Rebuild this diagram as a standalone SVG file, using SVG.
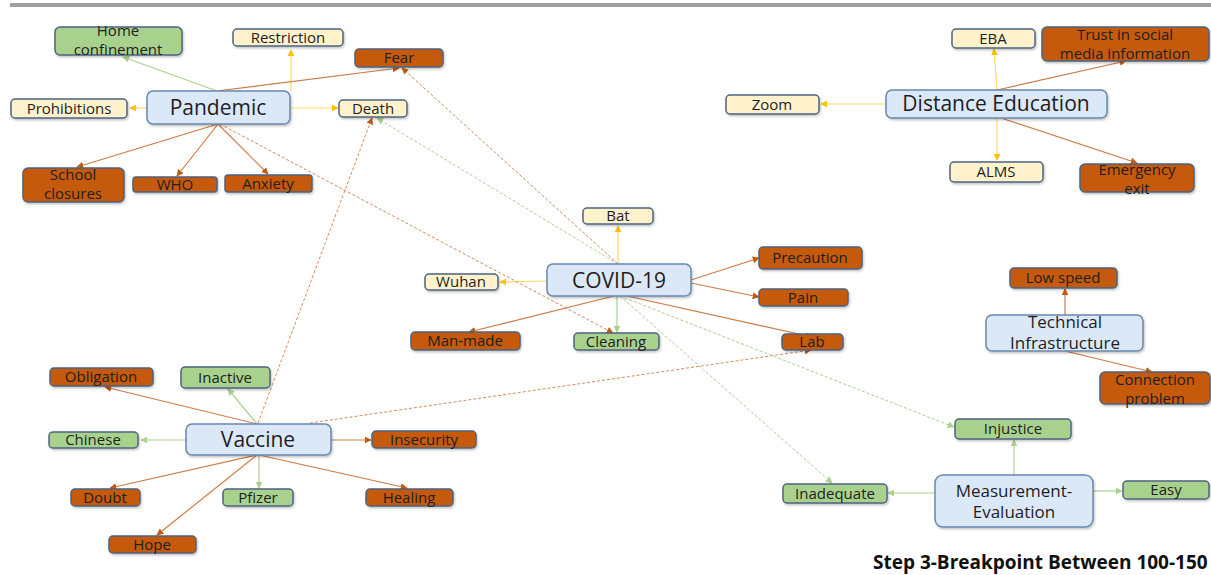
<svg xmlns="http://www.w3.org/2000/svg" width="1211" height="575" viewBox="0 0 1211 575">
<style>
.t{font-family:"Open Sans","Liberation Sans",sans-serif;font-size:15px;fill:#1e1e1e;text-anchor:middle}
.b{font-size:21px}
.m{font-size:17px}
.y{fill:#fff2cc;stroke:#4d6480;stroke-width:1.5}
.g{fill:#a9d18e;stroke:#4d6480;stroke-width:1.5}
.o{fill:#c55a11;stroke:#4d6480;stroke-width:1.5}
.c{fill:#dae8f7;stroke:#6a88ad;stroke-width:1.5}
.ly{stroke:#ffd966;stroke-width:1.2;fill:none;marker-end:url(#my)}
.lg{stroke:#a9d18e;stroke-width:1.2;fill:none;marker-end:url(#mg)}
.lo{stroke:#cf7a45;stroke-width:1.2;fill:none;marker-end:url(#mo)}
.dg{stroke:#a9d18e;stroke-width:1;fill:none;stroke-dasharray:3 2;marker-end:url(#mg)}
.do{stroke:#d98a5a;stroke-width:1;fill:none;stroke-dasharray:3 2;marker-end:url(#mo)}
</style>
<defs>
<marker id="my" viewBox="0 0 10 10" refX="9" refY="5" markerWidth="7" markerHeight="7" orient="auto" markerUnits="userSpaceOnUse"><path d="M0,0L10,5L0,10z" fill="#ffc000"/></marker>
<marker id="mg" viewBox="0 0 10 10" refX="9" refY="5" markerWidth="7" markerHeight="7" orient="auto" markerUnits="userSpaceOnUse"><path d="M0,0L10,5L0,10z" fill="#a9d18e"/></marker>
<marker id="mo" viewBox="0 0 10 10" refX="9" refY="5" markerWidth="7" markerHeight="7" orient="auto" markerUnits="userSpaceOnUse"><path d="M0,0L10,5L0,10z" fill="#c55a11"/></marker>
<filter id="sh" x="-10%" y="-20%" width="120%" height="150%"><feDropShadow dx="1" dy="1.5" stdDeviation="1" flood-color="#000" flood-opacity="0.25"/></filter>
</defs>
<rect x="10" y="3" width="1201" height="4" fill="#a0a0a0"/>
<g id="connectors">
<line class="lg" x1="217" y1="91" x2="123" y2="57"/>
<line class="ly" x1="291" y1="91" x2="291" y2="50"/>
<line class="lo" x1="217" y1="91" x2="399" y2="68"/>
<line class="ly" x1="147" y1="108" x2="130" y2="108"/>
<line class="ly" x1="290" y1="108" x2="338" y2="108"/>
<line class="lo" x1="218" y1="124" x2="77" y2="167"/>
<line class="lo" x1="218" y1="124" x2="177" y2="176"/>
<line class="lo" x1="218" y1="124" x2="268" y2="174"/>
<line class="ly" x1="997" y1="90" x2="994" y2="49"/>
<line class="lo" x1="997" y1="90" x2="1126" y2="61"/>
<line class="ly" x1="886" y1="104" x2="821" y2="104"/>
<line class="ly" x1="997" y1="118" x2="997" y2="160"/>
<line class="lo" x1="1001" y1="118" x2="1137" y2="163"/>
<line class="ly" x1="618" y1="264" x2="618" y2="226"/>
<line class="ly" x1="547" y1="281" x2="500" y2="282"/>
<line class="lo" x1="691" y1="280" x2="759" y2="258"/>
<line class="lo" x1="691" y1="283" x2="759" y2="297"/>
<line class="lo" x1="614" y1="296" x2="469" y2="332"/>
<line class="lg" x1="617" y1="296" x2="617" y2="332"/>
<line class="lo" x1="627" y1="296" x2="812" y2="337"/>
<line class="lo" x1="257" y1="424" x2="105" y2="387"/>
<line class="lg" x1="257" y1="424" x2="228" y2="389"/>
<line class="lg" x1="186" y1="440" x2="141" y2="440"/>
<line class="lo" x1="331" y1="440" x2="371" y2="440"/>
<line class="lo" x1="257" y1="455" x2="110" y2="488"/>
<line class="lg" x1="259" y1="455" x2="259" y2="488"/>
<line class="lo" x1="259" y1="455" x2="407" y2="488"/>
<line class="lo" x1="257" y1="455" x2="157" y2="535"/>
<line class="lo" x1="1065" y1="315" x2="1065" y2="289"/>
<line class="lo" x1="1065" y1="351" x2="1152" y2="372"/>
<line class="lg" x1="1014" y1="475" x2="1014" y2="440"/>
<line class="lg" x1="935" y1="493" x2="888" y2="493"/>
<line class="lg" x1="1093" y1="491" x2="1122" y2="491"/>
<line class="do" x1="618" y1="264" x2="402" y2="68"/>
<line class="dg" x1="618" y1="264" x2="377" y2="118"/>
<line class="do" x1="258" y1="423" x2="372" y2="118"/>
<line class="do" x1="220" y1="124" x2="613" y2="333"/>
<line class="do" x1="310" y1="423" x2="811" y2="350"/>
<line class="dg" x1="620" y1="296" x2="954" y2="427"/>
<line class="dg" x1="620" y1="296" x2="832" y2="483"/>
</g>
<g id="home"><rect class="g" x="55" y="27" width="127" height="28" rx="5" filter="url(#sh)"/><text class="t" x="118" y="36">Home</text><text class="t" x="118" y="55">confinement</text></g>
<g id="restriction"><rect class="y" x="233" y="29" width="110" height="17" rx="4" filter="url(#sh)"/><text class="t" x="288" y="43">Restriction</text></g>
<g id="fear"><rect class="o" x="355" y="49" width="88" height="18" rx="4" filter="url(#sh)"/><text class="t" x="399" y="63">Fear</text></g>
<g id="prohibitions"><rect class="y" x="11" y="99" width="116" height="19" rx="4" filter="url(#sh)"/><text class="t" x="69" y="114">Prohibitions</text></g>
<g id="pandemic"><rect class="c" x="147" y="91" width="143" height="33" rx="6" filter="url(#sh)"/><text class="t b" x="218" y="115">Pandemic</text></g>
<g id="death"><rect class="y" x="339" y="100" width="68" height="17" rx="4" filter="url(#sh)"/><text class="t" x="373" y="114">Death</text></g>
<g id="school"><rect class="o" x="23" y="168" width="101" height="34" rx="5" filter="url(#sh)"/><text class="t" x="73" y="180">School</text><text class="t" x="73" y="199">closures</text></g>
<g id="who"><rect class="o" x="133" y="177" width="84" height="15" rx="3" filter="url(#sh)"/><text class="t" x="175" y="190">WHO</text></g>
<g id="anxiety"><rect class="o" x="225" y="175" width="87" height="17" rx="3" filter="url(#sh)"/><text class="t" x="268" y="189">Anxiety</text></g>
<g id="eba"><rect class="y" x="952" y="29" width="83" height="19" rx="4" filter="url(#sh)"/><text class="t" x="993" y="44">EBA</text></g>
<g id="trust"><rect class="o" x="1042" y="27" width="167" height="34" rx="5" filter="url(#sh)"/><text class="t" x="1125" y="40">Trust in social</text><text class="t" x="1125" y="59">media information</text></g>
<g id="zoom"><rect class="y" x="726" y="95" width="93" height="19" rx="4" filter="url(#sh)"/><text class="t" x="772" y="110">Zoom</text></g>
<g id="distance-education"><rect class="c" x="886" y="90" width="221" height="28" rx="6" filter="url(#sh)"/><text class="t b" x="996" y="111">Distance Education</text></g>
<g id="alms"><rect class="y" x="950" y="162" width="93" height="20" rx="4" filter="url(#sh)"/><text class="t" x="996" y="177">ALMS</text></g>
<g id="emergency"><rect class="o" x="1080" y="164" width="114" height="28" rx="5" filter="url(#sh)"/><text class="t" x="1137" y="175">Emergency</text><text class="t" x="1137" y="194">exit</text></g>
<g id="bat"><rect class="y" x="583" y="208" width="70" height="16" rx="4" filter="url(#sh)"/><text class="t" x="618" y="221">Bat</text></g>
<g id="precaution"><rect class="o" x="759" y="247" width="103" height="22" rx="4" filter="url(#sh)"/><text class="t" x="810" y="263">Precaution</text></g>
<g id="wuhan"><rect class="y" x="425" y="274" width="73" height="16" rx="4" filter="url(#sh)"/><text class="t" x="461" y="287">Wuhan</text></g>
<g id="covid"><rect class="c" x="547" y="264" width="144" height="32" rx="6" filter="url(#sh)"/><text class="t b" x="619" y="288">COVID-19</text></g>
<g id="pain"><rect class="o" x="759" y="289" width="89" height="17" rx="4" filter="url(#sh)"/><text class="t" x="803" y="303">Pain</text></g>
<g id="manmade"><rect class="o" x="411" y="332" width="109" height="18" rx="4" filter="url(#sh)"/><text class="t" x="465" y="346">Man-made</text></g>
<g id="cleaning"><rect class="g" x="574" y="333" width="85" height="17" rx="4" filter="url(#sh)"/><text class="t" x="616" y="347">Cleaning</text></g>
<g id="lab"><rect class="o" x="782" y="334" width="61" height="16" rx="4" filter="url(#sh)"/><text class="t" x="812" y="347">Lab</text></g>
<g id="obligation"><rect class="o" x="50" y="368" width="103" height="18" rx="4" filter="url(#sh)"/><text class="t" x="101" y="382">Obligation</text></g>
<g id="inactive"><rect class="g" x="181" y="367" width="89" height="21" rx="4" filter="url(#sh)"/><text class="t" x="225" y="383">Inactive</text></g>
<g id="chinese"><rect class="g" x="49" y="432" width="89" height="16" rx="4" filter="url(#sh)"/><text class="t" x="93" y="445">Chinese</text></g>
<g id="vaccine"><rect class="c" x="186" y="424" width="145" height="31" rx="6" filter="url(#sh)"/><text class="t b" x="258" y="447">Vaccine</text></g>
<g id="insecurity"><rect class="o" x="372" y="431" width="104" height="17" rx="4" filter="url(#sh)"/><text class="t" x="424" y="445">Insecurity</text></g>
<g id="doubt"><rect class="o" x="71" y="489" width="69" height="17" rx="4" filter="url(#sh)"/><text class="t" x="105" y="503">Doubt</text></g>
<g id="pfizer"><rect class="g" x="223" y="489" width="70" height="17" rx="4" filter="url(#sh)"/><text class="t" x="258" y="503">Pfizer</text></g>
<g id="healing"><rect class="o" x="366" y="489" width="87" height="17" rx="4" filter="url(#sh)"/><text class="t" x="409" y="503">Healing</text></g>
<g id="hope"><rect class="o" x="109" y="536" width="87" height="17" rx="4" filter="url(#sh)"/><text class="t" x="152" y="550">Hope</text></g>
<g id="lowspeed"><rect class="o" x="1010" y="268" width="107" height="20" rx="4" filter="url(#sh)"/><text class="t" x="1063" y="283">Low speed</text></g>
<g id="technical"><rect class="c" x="986" y="315" width="157" height="36" rx="6" filter="url(#sh)"/><text class="t m" x="1065" y="328">Technical</text><text class="t m" x="1065" y="349">Infrastructure</text></g>
<g id="connection"><rect class="o" x="1100" y="372" width="110" height="32" rx="5" filter="url(#sh)"/><text class="t" x="1155" y="385">Connection</text><text class="t" x="1155" y="404">problem</text></g>
<g id="injustice"><rect class="g" x="955" y="419" width="116" height="20" rx="4" filter="url(#sh)"/><text class="t" x="1013" y="434">Injustice</text></g>
<g id="inadequate"><rect class="g" x="783" y="484" width="104" height="19" rx="4" filter="url(#sh)"/><text class="t" x="835" y="499">Inadequate</text></g>
<g id="measurement"><rect class="c" x="935" y="475" width="158" height="52" rx="8" filter="url(#sh)"/><text class="t m" x="1014" y="497">Measurement-</text><text class="t m" x="1014" y="518">Evaluation</text></g>
<g id="easy"><rect class="g" x="1123" y="481" width="86" height="18" rx="4" filter="url(#sh)"/><text class="t" x="1166" y="495">Easy</text></g>
<text x="873" y="569" font-family="'Open Sans','Liberation Sans',sans-serif" font-size="19" font-weight="bold" fill="#111">Step 3-Breakpoint Between 100-150</text>
</svg>
